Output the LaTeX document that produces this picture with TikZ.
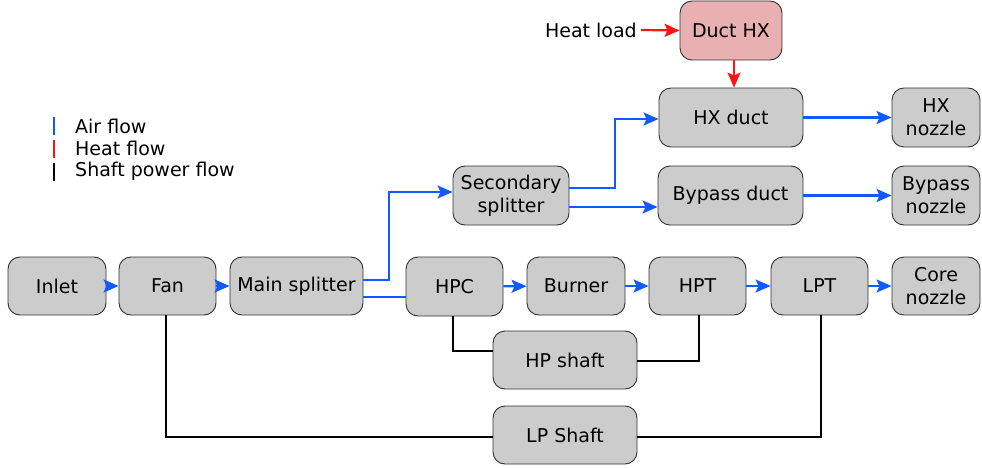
\documentclass[tikz,border=0pt]{standalone}
\usepackage{fontspec}
\setmainfont{DejaVu Sans}
\usetikzlibrary{arrows.meta,calc}
\definecolor{airblue}{RGB}{16,90,255}
\definecolor{heatred}{RGB}{255,20,20}
\definecolor{boxgray}{RGB}{204,204,204}
\definecolor{boxpink}{RGB}{232,176,176}
\definecolor{boxline}{RGB}{50,50,50}
\begin{document}
\begin{tikzpicture}[x=1pt,y=-1pt,
  box/.style={draw=boxline,fill=boxgray,line width=0.9pt,rounded corners=12pt,
    inner sep=0pt,align=center,font=\fontsize{19}{23}\selectfont},
  tip/.style={-{Stealth[length=15pt,width=13pt,inset=3pt]}},
  air/.style={draw=airblue,line width=2.2pt,tip},
  airline/.style={draw=airblue,line width=2.2pt},
  heat/.style={draw=heatred,line width=2.2pt,tip},
  shaft/.style={draw=black,line width=2.2pt},
  lbl/.style={inner sep=0pt,anchor=west,font=\fontsize{19}{23}\selectfont}]
\useasboundingbox (0,0) rectangle (982,468);
% nodes
\node[box,minimum width=98pt,minimum height=58pt] (inlet) at (57,286) {Inlet};
\node[box,minimum width=97pt,minimum height=58pt] (fan) at (167.5,286) {Fan};
\node[box,minimum width=133pt,minimum height=58pt] (main) at (296.5,286) {Main splitter};
\node[box,minimum width=97pt,minimum height=59pt] (hpc) at (454.5,286.5) {HPC};
\node[box,minimum width=98pt,minimum height=58pt] (burner) at (576,286) {Burner};
\node[box,minimum width=97pt,minimum height=58pt] (hpt) at (697.5,286) {HPT};
\node[box,minimum width=97pt,minimum height=58pt] (lpt) at (819.5,286) {LPT};
\node[box,minimum width=88pt,minimum height=58pt] (core) at (936,286) {Core\\nozzle};
\node[box,minimum width=116pt,minimum height=59pt] (sec) at (511,195.5) {Secondary\\splitter};
\node[box,minimum width=145pt,minimum height=59pt] (bypass) at (730.5,195.5) {Bypass duct};
\node[box,minimum width=88pt,minimum height=59pt] (bnoz) at (936,195.5) {Bypass\\nozzle};
\node[box,minimum width=144pt,minimum height=59pt] (hxduct) at (731,117.5) {HX duct};
\node[box,minimum width=88pt,minimum height=59pt] (hxnoz) at (936,117.5) {HX\\nozzle};
\node[box,fill=boxpink,minimum width=102pt,minimum height=59pt] (dhx) at (731,30.5) {Duct HX};
\node[box,minimum width=144pt,minimum height=58pt] (hpshaft) at (565,360) {HP shaft};
\node[box,minimum width=144pt,minimum height=58pt] (lpshaft) at (565,435) {LP Shaft};
\node[lbl,anchor=east] (heatload) at (637,30) {Heat load};
% air flow
\draw[air] (inlet) -- (fan);
\draw[air] (fan) -- (main);
\draw[air] ([yshift=6pt]main.east) -| (389,192) -- ([yshift=3.5pt]sec.west);
\draw[airline] ([yshift=-11pt]main.east) coordinate (m2) -- (m2 -| hpc.west);
\draw[air] ([yshift=7.5pt]sec.east) -| (615,119) -- ([yshift=-1.5pt]hxduct.west);
\draw[air] ([yshift=-11.5pt]sec.east) coordinate (s2) -- (s2 -| bypass.west);
\draw[air] (hxduct) -- (hxnoz);
\draw[air] (bypass) -- (bnoz);
\draw[air] (hpc) -- (burner);
\draw[air] (burner) -- (hpt);
\draw[air] (hpt) -- (lpt);
\draw[air] (lpt) -- (core);
% heat flow
\draw[heat] ([xshift=4pt]heatload.east) -- (dhx.west);
\draw[heat] ([xshift=3pt]dhx.south) coordinate (d1) -- (d1 |- hxduct.north);
% shaft power
\draw[shaft] ([xshift=-1.5pt]hpc.south) |- ([yshift=9pt]hpshaft.west);
\draw[shaft] ([yshift=-1pt]hpshaft.east) -| ([xshift=1.5pt]hpt.south);
\draw[shaft] ([xshift=-1.5pt]fan.south) |- ([yshift=-2pt]lpshaft.west);
\draw[shaft] ([yshift=-2pt]lpshaft.east) -| ([xshift=1.5pt]lpt.south);
% legend
\draw[airblue,line width=2.2pt] (54,117) coordinate (la1) -- (54,135) coordinate (la2);
\draw[heatred,line width=2.2pt] (54,140) coordinate (lh1) -- (54,158) coordinate (lh2);
\draw[black,line width=2.2pt] (54,163) coordinate (ls1) -- (54,181) coordinate (ls2);
\node[lbl] (lair) at (75,126) {Air flow};
\node[lbl] (lheat) at (75,148) {Heat flow};
\node[lbl] (lshaft) at (75,171) {Shaft power flow};
\end{tikzpicture}
\end{document}
